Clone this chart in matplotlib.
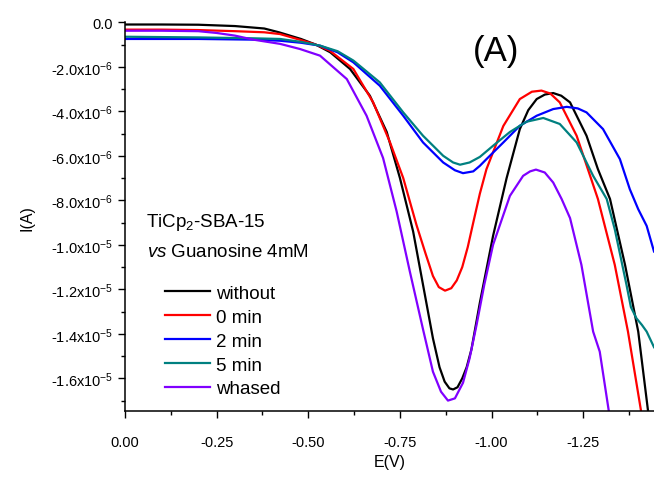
import matplotlib
matplotlib.use("Agg")
import matplotlib.pyplot as plt
import numpy as np
from matplotlib.ticker import MultipleLocator, FuncFormatter

plt.rcParams["font.family"] = "Liberation Sans"
plt.rcParams["mathtext.fontset"] = "custom"
plt.rcParams["mathtext.rm"] = "Liberation Sans"
plt.rcParams["mathtext.it"] = "Liberation Sans:italic"

# potentials (V) and currents (uA)
e_without = [0.0, -0.10, -0.20, -0.30, -0.38, -0.42, -0.48, -0.52, -0.56, -0.614, -0.668, -0.714,
             -0.75, -0.786, -0.813, -0.84, -0.858, -0.872, -0.885, -0.895, -0.907, -0.92, -0.932,
             -0.945, -0.968, -1.004, -1.041, -1.077, -1.10, -1.123, -1.145, -1.168, -1.19, -1.214,
             -1.259, -1.29, -1.323, -1.364, -1.40, -1.427, -1.435]
i_without = [-0.10, -0.10, -0.11, -0.17, -0.28, -0.45, -0.75, -1.0, -1.35, -2.1, -3.3, -4.93,
             -7.0, -9.4, -11.8, -14.2, -15.5, -16.15, -16.45, -16.5, -16.4, -16.0, -15.5,
             -14.7, -12.6, -9.6, -7.0, -4.8, -3.95, -3.45, -3.25, -3.18, -3.3, -3.6,
             -5.1, -6.6, -7.94, -10.9, -13.9, -17.5, -18.2]

e_0min = [0.0, -0.10, -0.20, -0.30, -0.38, -0.423, -0.48, -0.52, -0.559, -0.623, -0.677, -0.723,
          -0.759, -0.795, -0.82, -0.84, -0.856, -0.873, -0.89, -0.905, -0.92, -0.935, -0.95,
          -0.968, -0.986, -1.032, -1.077, -1.11, -1.136, -1.16, -1.186, -1.232, -1.29, -1.336,
          -1.372, -1.407, -1.412]
i_0min = [-0.33, -0.33, -0.35, -0.40, -0.45, -0.53, -0.8, -1.0, -1.28, -2.1, -3.6, -5.4,
          -7.0, -9.1, -10.4, -11.4, -11.9, -12.06, -11.95, -11.6, -11.0, -10.1, -9.0,
          -7.7, -6.6, -4.66, -3.45, -3.12, -3.07, -3.2, -3.6, -5.1, -7.94, -10.9,
          -13.9, -17.4, -18.0]

e_2min = [0.0, -0.20, -0.35, -0.423, -0.48, -0.532, -0.58, -0.623, -0.695, -0.759, -0.813, -0.868,
          -0.90, -0.922, -0.95, -0.968, -0.986, -1.032, -1.077, -1.123, -1.168, -1.205, -1.235,
          -1.259, -1.304, -1.35, -1.377, -1.40, -1.423, -1.443]
i_2min = [-0.75, -0.75, -0.78, -0.83, -0.92, -1.05, -1.35, -1.8, -2.85, -4.2, -5.4, -6.3,
          -6.65, -6.78, -6.7, -6.45, -6.15, -5.4, -4.65, -4.2, -3.9, -3.8, -3.87,
          -4.05, -4.8, -6.15, -7.5, -8.4, -9.15, -10.3]

e_5min = [0.0, -0.20, -0.35, -0.423, -0.48, -0.532, -0.58, -0.623, -0.695, -0.759, -0.813, -0.868,
          -0.895, -0.914, -0.94, -0.968, -1.004, -1.05, -1.095, -1.141, -1.186, -1.232, -1.277,
          -1.314, -1.336, -1.368, -1.38, -1.395, -1.41, -1.423, -1.443]
i_5min = [-0.65, -0.68, -0.72, -0.75, -0.88, -1.05, -1.3, -1.72, -2.7, -4.05, -5.1, -6.0,
          -6.3, -6.4, -6.3, -6.05, -5.55, -4.93, -4.47, -4.3, -4.57, -5.4, -6.9,
          -7.94, -9.3, -11.8, -12.8, -13.3, -13.6, -13.9, -14.6]

e_whased = [0.0, -0.10, -0.20, -0.25, -0.30, -0.35, -0.423, -0.477, -0.532, -0.605, -0.659, -0.704,
            -0.741, -0.777, -0.813, -0.84, -0.862, -0.881, -0.90, -0.922, -0.94, -0.959, -0.98,
            -1.004, -1.05, -1.086, -1.105, -1.121, -1.145, -1.168, -1.191, -1.214, -1.245, -1.277,
            -1.295, -1.32, -1.325]
i_whased = [-0.38, -0.38, -0.40, -0.48, -0.60, -0.78, -0.97, -1.2, -1.5, -2.55, -4.2, -6.1,
            -8.5, -11.2, -13.8, -15.7, -16.6, -17.0, -16.9, -16.2, -15.1, -13.6, -11.8,
            -10.0, -7.8, -6.9, -6.7, -6.62, -6.75, -7.2, -7.94, -8.8, -10.9, -13.9,
            -14.8, -17.5, -18.2]

series = [
    ("without", e_without, i_without, "black"),
    ("0 min", e_0min, i_0min, "#ff0000"),
    ("2 min", e_2min, i_2min, "#0000ff"),
    ("5 min", e_5min, i_5min, "#008080"),
    ("whased", e_whased, i_whased, "#8000ff"),
]

fig = plt.figure(figsize=(6.54, 4.89), dpi=100)
ax = fig.add_axes([0.1911, 0.1569, 0.8089, 0.7955])

for lab, e, i, c in series:
    ax.plot(e, np.array(i) * 1e-6, color=c, lw=1.6, label=lab)

ax.set_xlim(0, -1.443)
ax.set_ylim(-1.748e-5, 0)

for s in ["top", "right"]:
    ax.spines[s].set_visible(False)
for s in ["left", "bottom"]:
    ax.spines[s].set_linewidth(1.1)

ax.xaxis.set_major_locator(MultipleLocator(0.25))
ax.xaxis.set_minor_locator(MultipleLocator(0.125))
ax.yaxis.set_major_locator(MultipleLocator(2e-6))
ax.yaxis.set_minor_locator(MultipleLocator(1e-6))
ax.xaxis.set_major_formatter(FuncFormatter(lambda v, p: f"{v:.2f}"))


def yfmt(v, pos):
    if abs(v) < 1e-12:
        return "0.0"
    e = int(np.floor(np.log10(abs(v)) + 1e-9))
    m = v / 10 ** e
    return f"{m:.1f}x10$^{{{e}}}$"


ax.yaxis.set_major_formatter(FuncFormatter(yfmt))
ax.tick_params(which="major", direction="out", length=5, width=1.0, labelsize=10.5)
ax.tick_params(which="minor", direction="out", length=3, width=1.0)
ax.tick_params(axis="x", which="major", pad=12)

ax.set_xlabel("E(V)", fontsize=11.5, labelpad=4)
ax.set_ylabel("I(A)", fontsize=11.5, labelpad=12)

ax.text(0.701, 0.927, "(A)", transform=ax.transAxes, fontsize=25,
        ha="center", va="center")
ax.text(0.040, 0.489, "TiCp$_2$-SBA-15", transform=ax.transAxes, fontsize=13.5,
        ha="left", va="center")
ax.text(0.042, 0.41, r"$\mathit{vs}$ Guanosine 4mM", transform=ax.transAxes,
        fontsize=13.5, ha="left", va="center")

ax.legend(loc="upper left", bbox_to_anchor=(0.0756, 0.325), frameon=False,
          fontsize=13.5, handlelength=2.4, handletextpad=0.3, labelspacing=0.36,
          borderpad=0, borderaxespad=0)

fig.savefig("out.png", dpi=100)
